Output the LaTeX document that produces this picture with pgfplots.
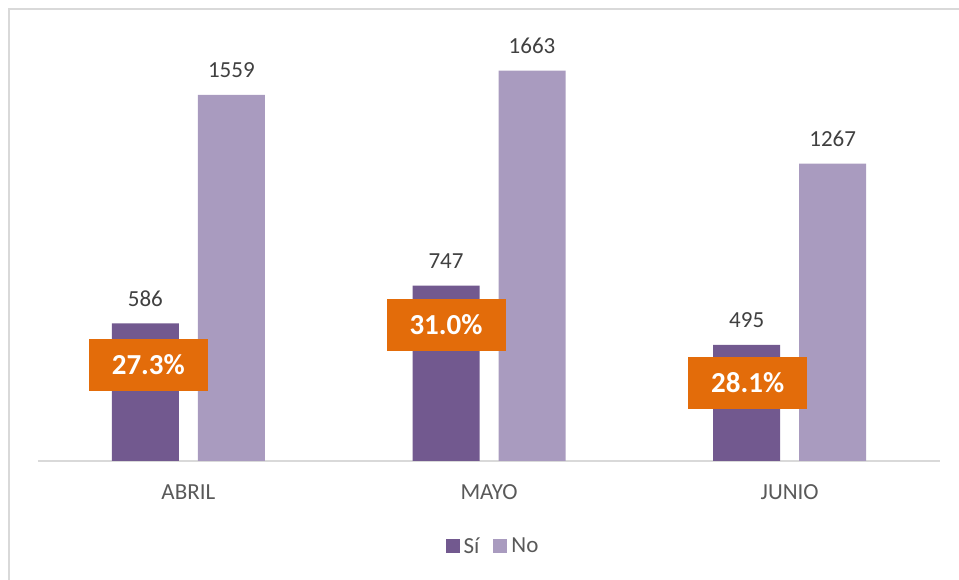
\documentclass[border=0pt]{standalone}
\usepackage{fontspec}
\setmainfont{Carlito}
\usepackage{pgfplots}
\pgfplotsset{compat=1.18}
\definecolor{si}{HTML}{72598F}
\definecolor{no}{HTML}{A99BBF}
\definecolor{org}{HTML}{E36C0A}
\definecolor{lbl}{HTML}{404040}
\definecolor{cat}{HTML}{595959}
\definecolor{gridc}{HTML}{D9D9D9}
\pgfplotsset{sqlegend/.style={legend image code/.code={\fill[##1] (0pt,-7pt) rectangle (14pt,7pt);}}}
\begin{document}
\begin{tikzpicture}[x=1pt,y=1pt]
\path[use as bounding box] (0,0) rectangle (959,580);
\draw[gridc, line width=2pt] (9,-2) -- (9,571) -- (961,571);
\begin{axis}[
  at={(38pt,119pt)}, anchor=south west,
  scale only axis, width=902pt, height=422.6pt,
  xmin=-0.5, xmax=2.5, ymin=0, ymax=1800,
  enlargelimits=false, clip=false,
  hide y axis,
  axis x line*=bottom,
  x axis line style={gridc, line width=1.5pt, -},
  xtick={0,1,2}, xticklabels={ABRIL,MAYO,JUNIO},
  major tick length=0pt,
  xticklabel style={font=\fontsize{23}{27}\selectfont, text=cat, anchor=base, yshift=-39pt},
  ybar=19pt, bar width=67pt,
  /pgf/number format/1000 sep={},
  /pgf/number format/assume math mode=true,
  nodes near coords,
  every node near coord/.append style={font=\fontsize{23}{27}\selectfont, text=lbl, anchor=base, yshift=17pt},
  legend columns=2,
  legend style={at={(0.5044,-0.2011)}, anchor=center, draw=none, fill=none,
    font=\fontsize{23}{27}\selectfont, text=cat,
    /tikz/every odd column/.append style={column sep=2pt},
    /tikz/every even column/.append style={column sep=12pt}},
]
\addplot[fill=si, draw=none, sqlegend] coordinates {(0,586) (1,747) (2,495)};
\addplot[fill=no, draw=none, sqlegend] coordinates {(0,1559) (1,1663) (2,1267)};
\legend{Sí, No}
\node[fill=org, text=white, minimum width=119pt, minimum height=52pt, inner sep=0pt,
  font=\fontsize{29}{34}\selectfont\bfseries, xshift=-40pt] at (axis cs:0,409) {27.3\%};
\node[fill=org, text=white, minimum width=119pt, minimum height=52pt, inner sep=0pt,
  font=\fontsize{29}{34}\selectfont\bfseries, xshift=-43pt] at (axis cs:1,579) {31.0\%};
\node[fill=org, text=white, minimum width=119pt, minimum height=52pt, inner sep=0pt,
  font=\fontsize{29}{34}\selectfont\bfseries, xshift=-42pt] at (axis cs:2,332) {28.1\%};
\end{axis}
\end{tikzpicture}
\end{document}
